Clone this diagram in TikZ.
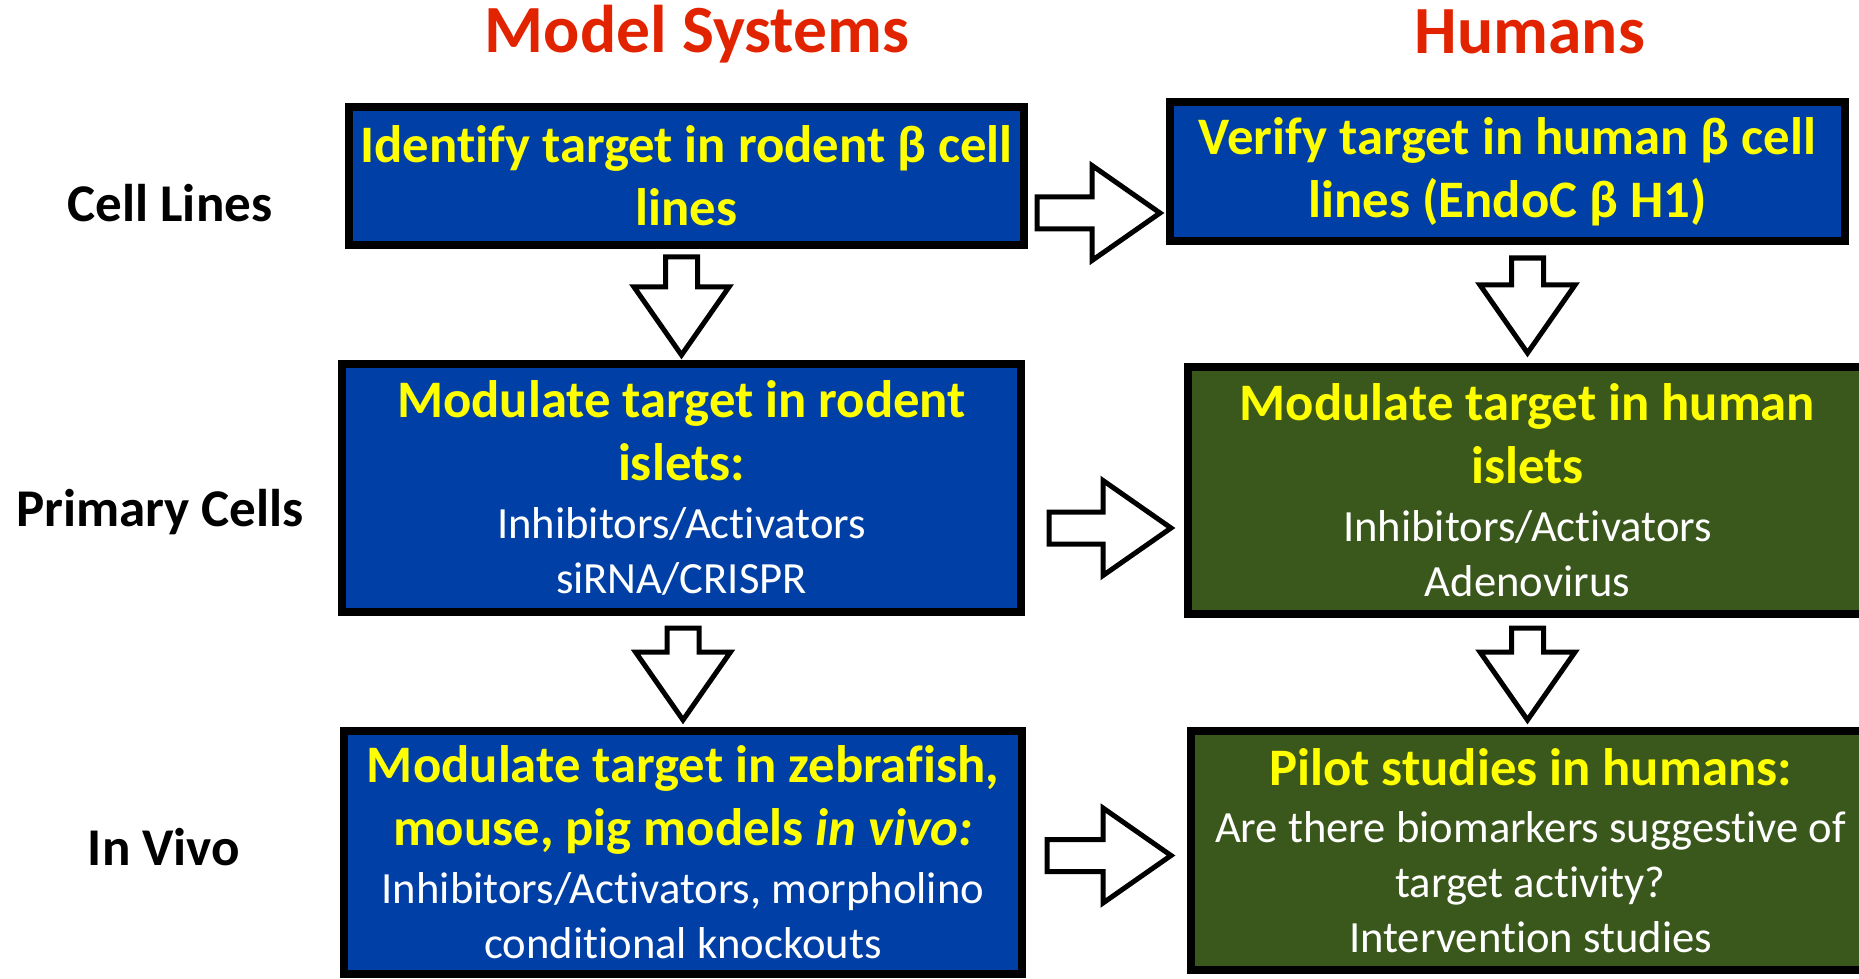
\documentclass[tikz,border=0pt]{standalone}
\usepackage{fontspec}
\setmainfont{Carlito}[Ligatures=NoCommon]
\usepackage{xcolor}
\usetikzlibrary{calc}
\definecolor{boxblue}{RGB}{0,64,166}
\definecolor{boxgreen}{RGB}{58,87,28}
\definecolor{hlyellow}{RGB}{255,255,0}
\definecolor{headred}{RGB}{226,35,0}
\newcommand\yel{\color{hlyellow}\bfseries\fontsize{15}{17.9}\selectfont}
\tikzset{stagebox/.style={draw=black, line width=0.08cm, inner sep=0pt,
   align=center, text=white, font=\fontsize{12.7}{15.6}\selectfont},
 bluebox/.style={stagebox, fill=boxblue},
 greenbox/.style={stagebox, fill=boxgreen},
 colhead/.style={text=headred, font=\bfseries\fontsize{19.2}{22}\selectfont, anchor=base},
 rowlab/.style={font=\bfseries\fontsize{15.1}{17}\selectfont, anchor=base},
 blockarr/.pic={\draw[line width=0.05cm, fill=white, line join=miter]
   (0,0.16) -- (#1-0.71,0.16) -- (#1-0.71,0.475) -- (#1-0.03,0)
   -- (#1-0.71,-0.475) -- (#1-0.71,-0.16) -- (0,-0.16) -- cycle;},
 }

\begin{document}
\begin{tikzpicture}
    \useasboundingbox (0,0) rectangle (18.59,-9.79);
    % column and row headings
    \node[colhead] (msys) at (6.97,-0.53) {Model Systems};
    \node[colhead] (hums) at (15.30,-0.54) {Humans};
    \node[rowlab] (cell) at (1.70,-2.22) {Cell Lines};
    \node[rowlab] (prim) at (1.60,-5.26) {Primary Cells};
    \node[rowlab] (vivo) at (1.64,-8.65) {In Vivo};
    % boxes
    \node[bluebox, minimum width=6.75cm, minimum height=1.38cm] (idR) at (6.865,-1.76)
        {\yel Identify target in rodent β cell\\[2.3pt]\yel lines};
    \node[bluebox, minimum width=6.75cm, minimum height=1.39cm] (verH) at (15.075,-1.715)
        {\yel Verify target in human β cell\\[2.3pt]\yel lines (EndoC β H1)};
    \node[bluebox, minimum width=6.79cm, minimum height=2.48cm] (modR) at (6.815,-4.88)
        {\yel Modulate target in rodent\\[2.3pt]\yel islets:\\[0.9pt]Inhibitors/Activators\\siRNA/CRISPR};
    \node[greenbox, minimum width=6.79cm, minimum height=2.47cm] (modH) at (15.275,-4.905)
        {\yel Modulate target in human\\[2.3pt]\yel islets\\[0.9pt]Inhibitors/Activators\\Adenovirus};
    \node[bluebox, minimum width=6.78cm, minimum height=2.43cm] (vivR) at (6.83,-8.525)
        {\yel Modulate target in zebrafish,\\[2.3pt]\yel mouse, pig models \textit{in vivo:}\\[0.9pt]Inhibitors/Activators, morpholino\\conditional knockouts};
    \node[greenbox, minimum width=6.79cm, minimum height=2.39cm] (pilH) at (15.305,-8.505)
        {\yel Pilot studies in humans:\\[0.6pt]Are there biomarkers suggestive of\\target activity?\\Intervention studies};
    % block arrows
    \pic[rotate=-90] at ($(idR.south -| modR.north)+(0,-0.08)$) {blockarr=1.01};
    \pic[rotate=-90] at ($(verH.south -| modH.north)+(0,-0.13)$) {blockarr=0.98};
    \pic[rotate=-90] at ($(modR.south -| vivR.north)+(0,-0.12)$) {blockarr=0.95};
    \pic[rotate=-90] at ($(modH.south)+(0,-0.10)$) {blockarr=0.95};
    \pic at ($(idR.east)+(0.09,-0.37)$) {blockarr=1.26};
    \pic at ($(modR.east)+(0.24,-0.40)$) {blockarr=1.25};
    \pic at ($(vivR.east)+(0.21,-0.03)$) {blockarr=1.27};
\end{tikzpicture}
\end{document}
